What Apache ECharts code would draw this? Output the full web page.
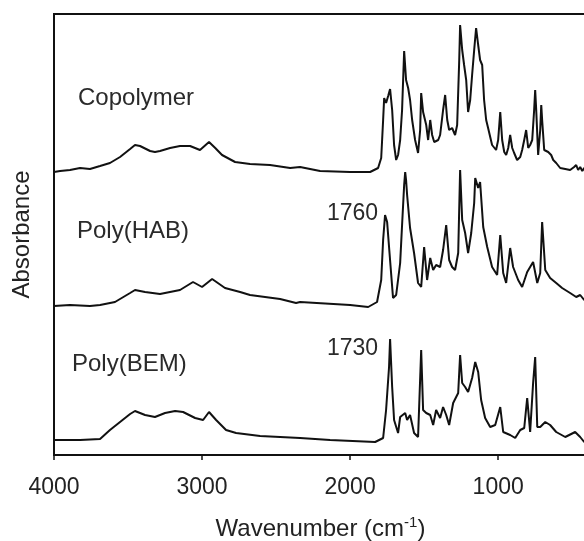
<!DOCTYPE html>
<html><head><meta charset="utf-8">
<script src="https://cdn.jsdelivr.net/npm/echarts@6/dist/echarts.min.js"></script>
<style>html,body{margin:0;padding:0;background:#fff}#c{width:584px;height:541px}</style>
</head><body><div id="c"></div>
<script>
var xTicks = [1000, 2000, 3000, 4000];
var seriesNames = ['Copolymer', 'Poly(HAB)', 'Poly(BEM)'];
var peakLabels = ['1760', '1730'];

var copoWn = [4000,3959,3892,3824,3757,3689,3622,3554,3486,3453,3419,3351,3318,3284,3216,3149,3081,3068,3014,2953,2911,2865,2777,2676,2541,2405,2338,2203,2000,1865,1811,1790,1777,1770,1757,1743,1730,1716,1703,1689,1676,1662,1649,1635,1622,1608,1595,1581,1561,1541,1527,1520,1507,1486,1473,1459,1446,1432,1419,1405,1392,1372,1358,1344,1331,1311,1291,1277,1263,1257,1243,1230,1216,1203,1189,1176,1162,1149,1135,1122,1108,1095,1081,1068,1041,1014,1000,986,973,959,946,932,919,905,892,872,851,838,824,811,797,784,770,757,750,743,730,716,709,703,689,676,662,642,628,608,581,547,514,487,473,460,446,432,419,400];
var copoAbs = [2.83,2.84,2.85,2.87,2.86,2.89,2.92,2.98,3.06,3.10,3.09,3.04,3.03,3.04,3.07,3.09,3.09,3.11,3.05,3.13,3.07,3.00,2.93,2.91,2.90,2.87,2.88,2.84,2.83,2.83,2.87,2.97,3.35,3.57,3.52,3.59,3.66,3.45,3.10,2.95,3.00,3.15,3.45,4.04,3.75,3.67,3.55,3.35,3.15,3.02,3.25,3.62,3.43,3.30,3.15,3.35,3.20,3.13,3.15,3.15,3.20,3.45,3.60,3.35,3.25,3.27,3.20,3.30,3.95,4.30,4.05,3.90,3.75,3.43,3.55,3.80,4.05,4.27,4.10,3.95,3.90,3.55,3.35,3.27,3.10,3.05,3.15,3.43,3.15,3.03,3.00,3.07,3.20,3.07,3.02,2.95,2.98,3.05,3.15,3.25,3.07,3.10,3.15,3.45,3.65,3.45,3.00,3.25,3.50,3.35,3.05,3.07,3.03,3.00,2.95,2.92,2.87,2.86,2.85,2.88,2.90,2.85,2.88,2.84,2.87,2.86];

var habWn = [4000,3892,3757,3689,3588,3486,3453,3385,3284,3149,3061,3000,2932,2845,2743,2676,2473,2365,2338,2000,1878,1818,1790,1777,1764,1750,1737,1710,1689,1662,1649,1635,1628,1622,1615,1595,1568,1541,1520,1500,1480,1459,1439,1419,1392,1372,1351,1331,1311,1291,1270,1257,1243,1223,1203,1182,1162,1155,1135,1122,1101,1074,1041,1007,986,966,946,919,899,865,838,804,764,736,716,703,682,649,608,568,514,473,446,419,400];
var habAbs = [1.49,1.50,1.49,1.50,1.53,1.62,1.65,1.63,1.61,1.65,1.73,1.68,1.76,1.67,1.63,1.60,1.56,1.52,1.53,1.50,1.48,1.53,1.75,2.15,2.40,2.33,2.08,1.57,1.60,1.92,2.30,2.70,2.83,2.75,2.60,2.27,2.02,1.72,1.68,2.08,1.75,1.97,1.85,1.90,1.88,2.05,2.30,1.95,1.88,1.85,2.02,2.85,2.35,2.22,2.02,2.22,2.52,2.77,2.67,2.73,2.28,2.08,1.88,1.80,2.20,1.82,1.72,2.07,1.88,1.75,1.68,1.83,1.93,1.72,1.82,2.33,1.85,1.77,1.72,1.67,1.62,1.58,1.60,1.55,1.56];

var bemWn = [4000,3824,3689,3622,3554,3486,3453,3385,3318,3250,3182,3128,3047,2993,2953,2905,2838,2770,2608,2338,2135,1831,1777,1757,1737,1730,1716,1703,1676,1662,1628,1615,1595,1568,1541,1520,1507,1486,1459,1439,1419,1392,1372,1351,1331,1304,1270,1257,1243,1223,1203,1176,1155,1135,1115,1088,1054,1020,986,966,919,885,851,824,804,784,764,750,736,716,682,649,608,547,480,446,419,400];
var bemAbs = [0.15,0.15,0.16,0.25,0.33,0.41,0.44,0.40,0.38,0.42,0.44,0.43,0.37,0.35,0.43,0.35,0.25,0.22,0.19,0.17,0.15,0.13,0.17,0.45,0.88,1.16,0.68,0.35,0.22,0.38,0.42,0.35,0.40,0.22,0.18,1.05,0.45,0.42,0.40,0.30,0.45,0.37,0.48,0.40,0.30,0.52,0.62,1.00,0.72,0.68,0.63,0.77,0.93,0.83,0.55,0.37,0.28,0.30,0.48,0.23,0.20,0.17,0.25,0.27,0.57,0.23,0.72,0.98,0.28,0.28,0.33,0.30,0.23,0.18,0.23,0.18,0.13,0.14];

function pairs(w, a) { return w.map(function (v, i) { return [v, a[i]]; }); }

var FONT = 'Liberation Sans';
var chart = echarts.init(document.getElementById('c'), null, {renderer: 'canvas'});
var lineStyle = {color: '#111', width: 2};
function mkSeries(name, w, a) {
  return {name: name, type: 'line', data: pairs(w, a), showSymbol: false, symbol: 'none',
    lineStyle: lineStyle, animation: false, silent: true};
}
var textStyle = {fill: '#2a2a2a', fontSize: 24, fontFamily: FONT};
var peakStyle = {fill: '#2a2a2a', fontSize: 23, fontFamily: FONT};
chart.setOption({
  animation: false,
  grid: {left: 54, top: 14, right: -3, bottom: 86, show: true, borderColor: '#111', borderWidth: 2,
    backgroundColor: 'transparent', containLabel: false, outerBoundsMode: 'none'},
  xAxis: {
    type: 'value', inverse: true, min: 400, max: 4000,
    axisLine: {show: true, lineStyle: {color: '#111', width: 2}},
    axisTick: {show: true, inside: false, length: 5, customValues: xTicks, lineStyle: {color: '#111', width: 1.5}},
    axisLabel: {show: true, customValues: xTicks, color: '#222', fontSize: 23, fontFamily: FONT, margin: 21,
      formatter: function (v) { return String(v); }},
    splitLine: {show: false},
    name: 'Wavenumber (cm{sup|-1})', nameLocation: 'middle', nameGap: 60,
    nameTextStyle: {color: '#222', fontSize: 24, fontFamily: FONT,
      rich: {sup: {fontSize: 15, fontFamily: FONT, color: '#222', verticalAlign: 'top', padding: [0, 0, 13, 0]}}}
  },
  yAxis: {
    type: 'value', min: 0, max: 4.41,
    axisLine: {show: false}, axisTick: {show: false}, axisLabel: {show: false}, splitLine: {show: false},
    name: 'Absorbance', nameLocation: 'middle', nameGap: 20, nameRotate: 90,
    nameTextStyle: {color: '#222', fontSize: 24, fontFamily: FONT}
  },
  series: [
    mkSeries(seriesNames[0], copoWn, copoAbs),
    mkSeries(seriesNames[1], habWn, habAbs),
    mkSeries(seriesNames[2], bemWn, bemAbs)
  ],
  graphic: [
    {type: 'text', left: 78, top: 86, style: Object.assign({text: seriesNames[0]}, textStyle)},
    {type: 'text', left: 77, top: 219, style: Object.assign({text: seriesNames[1]}, textStyle)},
    {type: 'text', left: 72, top: 352, style: Object.assign({text: seriesNames[2]}, textStyle)},
    {type: 'text', left: 327, top: 202, style: Object.assign({text: peakLabels[0]}, peakStyle)},
    {type: 'text', left: 327, top: 337, style: Object.assign({text: peakLabels[1]}, peakStyle)}
  ]
});
</script></body></html>
